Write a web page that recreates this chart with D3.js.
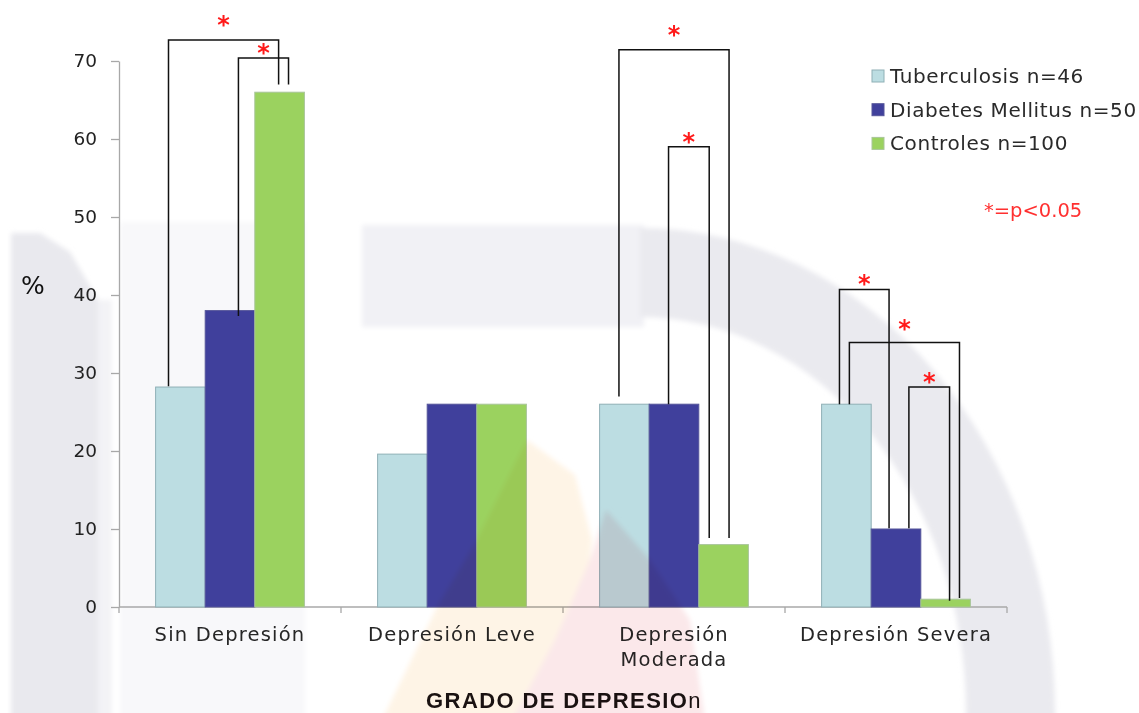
<!DOCTYPE html>
<html>
<head>
<meta charset="utf-8">
<script src="https://cdn.jsdelivr.net/npm/d3@7/dist/d3.min.js"></script>
<style>
  html, body { margin: 0; padding: 0; background: #ffffff; }
  svg { display: block; }
</style>
</head>
<body>
<svg id="chart" width="1139" height="713"></svg>
<script>
// ---- data ----
const categories = ["Sin Depresión", "Depresión Leve", "Depresión Moderada", "Depresión Severa"];
const categoryLines = [["Sin Depresión"], ["Depresión Leve"], ["Depresión", "Moderada"], ["Depresión Severa"]];
const seriesNames = ["Tuberculosis n=46", "Diabetes Mellitus n=50", "Controles n=100"];
const tuberculosis = [28.2, 19.6, 26, 26];
const diabetes = [38, 26, 26, 10];
const controles = [66, 26, 8, 1];
const yTicks = [0, 10, 20, 30, 40, 50, 60, 70];

// significance brackets: category, series at each end, shift of each leg as a share of the bar width,
// value where each leg ends, value of the horizontal bar and of the asterisk
const bracketCat   = [0, 0, 2, 2, 3, 3, 3];
const bracketFrom  = [0, 1, 0, 1, 0, 0, 1];
const bracketTo    = [2, 2, 2, 2, 1, 2, 2];
const fromShift    = [-0.24, 0.17, -0.11, -0.11, -0.14, 0.06, 0.26];
const toShift      = [-0.02, 0.18, 0.11, -0.29, -0.14, 0.28, 0.08];
const fromEnd      = [28.3, 37.3, 27, 26, 26, 26, 10.1];
const toEnd        = [67, 67, 8.85, 8.85, 10.1, 1.15, 0.8];
const bracketLevel = [72.7, 70.4, 71.45, 59, 40.7, 33.9, 28.2];
const starLevel    = [75.3, 71.7, 74, 60.3, 42.1, 36.3, 29.5];

const series = [tuberculosis, diabetes, controles];
const fills   = ["#bcdde2", "#40409c", "#9bd25f"];
const strokes = ["#8fb0b6", "#55559a", "#a9c59a"];

// ---- layout ----
const svg = d3.select("#chart");
const plot = { left: 119, right: 1007, top: 61, bottom: 607 };

const x0 = d3.scaleBand().domain(d3.range(categories.length)).range([plot.left, plot.right]).paddingInner(0).paddingOuter(0);
const x1 = d3.scaleBand().domain(d3.range(series.length)).range([0, x0.bandwidth()]).paddingInner(0).paddingOuter(0.738);
const y  = d3.scaleLinear().domain([0, 70]).range([plot.bottom, plot.top]);

const font = "'DejaVu Sans', Verdana, sans-serif";

const defs = svg.append("defs");
defs.append("filter").attr("id", "soft").attr("x", "-10%").attr("y", "-10%").attr("width", "120%").attr("height", "120%")
  .append("feGaussianBlur").attr("stdDeviation", 2.5);

// ---- faint backdrop print (behind the drawing) ----
const back = svg.append("g").attr("filter", "url(#soft)");
back.append("rect").attr("x", 120).attr("y", 222).attr("width", 185).attr("height", 500).attr("fill", "#f8f8fa");
back.append("path").attr("d", "M11,720V233H40L70,252L98,300V720Z").attr("fill", "#e9e9ee");
back.append("rect").attr("x", 98).attr("y", 300).attr("width", 14).attr("height", 420).attr("fill", "#f3f3f6");
back.append("rect").attr("x", 362).attr("y", 225).attr("width", 282).attr("height", 102).attr("fill", "#f1f1f5");
back.append("path")
  .attr("d", "M640,228A415,485 0 0 1 1055,713V720H966V713A326,396 0 0 0 640,317Z")
  .attr("fill", "#eaeaef");

// ---- y axis ----
const yAxis = svg.append("g")
  .attr("transform", `translate(${plot.left},0)`)
  .call(d3.axisLeft(y).tickValues(yTicks).tickSize(8).tickSizeOuter(0).tickPadding(14));
yAxis.select(".domain").attr("stroke", "#a8a8a8").attr("stroke-width", 1.3);
yAxis.selectAll(".tick line").attr("stroke", "#a8a8a8").attr("stroke-width", 1.3);
yAxis.selectAll(".tick text").attr("font-family", font).attr("font-size", 18.5).attr("fill", "#222");

// ---- x axis ----
const xAxis = svg.append("g").attr("transform", `translate(0,${plot.bottom})`);
xAxis.append("line")
  .attr("x1", plot.left).attr("x2", plot.right)
  .attr("stroke", "#a8a8a8").attr("stroke-width", 1.3);
const boundaries = d3.range(categories.length).map(i => x0(i)).concat([plot.right]);
xAxis.selectAll("line.cat-tick").data(boundaries).join("line")
  .attr("class", "cat-tick")
  .attr("x1", d => d).attr("x2", d => d)
  .attr("y1", 0).attr("y2", 6)
  .attr("stroke", "#a8a8a8").attr("stroke-width", 1.3);

const catLabels = xAxis.selectAll("text.cat").data(categoryLines).join("text")
  .attr("class", "cat")
  .attr("font-family", font).attr("font-size", 19.5).attr("letter-spacing", 1.2).attr("fill", "#262626")
  .attr("text-anchor", "middle")
  .attr("transform", (d, i) => `translate(${x0(i) + x0.bandwidth() / 2},34)`);
catLabels.selectAll("tspan").data(d => d).join("tspan")
  .attr("x", 0).attr("y", (d, i) => i * 25).text(d => d);

// ---- bars ----
const groups = svg.append("g").selectAll("g").data(categories).join("g")
  .attr("transform", (d, i) => `translate(${x0(i)},0)`);
groups.selectAll("rect").data((d, ci) => series.map((s, si) => ({ si, v: s[ci] }))).join("rect")
  .attr("x", d => x1(d.si))
  .attr("width", x1.bandwidth())
  .attr("y", d => y(d.v))
  .attr("height", d => y(0) - y(d.v))
  .attr("fill", d => fills[d.si])
  .attr("stroke", d => strokes[d.si])
  .attr("stroke-width", 1);

// ---- significance brackets ----
const legX = (cat, s, shift) => x0(cat) + x1(s) + x1.bandwidth() * (0.5 + shift);
const bracketData = bracketCat.map((c, i) => ({
  xa: legX(c, bracketFrom[i], fromShift[i]),
  xb: legX(c, bracketTo[i], toShift[i]),
  ya: y(fromEnd[i]), yb: y(toEnd[i]),
  yt: y(bracketLevel[i]), ys: y(starLevel[i])
}));
const br = svg.append("g");
br.selectAll("path").data(bracketData).join("path")
  .attr("d", d => `M${d.xa},${d.ya}V${d.yt}H${d.xb}V${d.yb}`)
  .attr("fill", "none").attr("stroke", "#111").attr("stroke-width", 1.5);
br.selectAll("text").data(bracketData).join("text")
  .attr("x", d => (d.xa + d.xb) / 2)
  .attr("y", d => d.ys + 13.5)
  .attr("text-anchor", "middle")
  .attr("font-family", font).attr("font-size", 24).attr("font-weight", "bold")
  .attr("fill", "#ff1a1a")
  .text("*");

// ---- legend ----
const legend = svg.append("g").attr("transform", "translate(872,70)");
const items = legend.selectAll("g").data(seriesNames).join("g")
  .attr("transform", (d, i) => `translate(0,${i * 33.7})`);
items.append("rect")
  .attr("width", 12).attr("height", 12)
  .attr("fill", (d, i) => fills[i]).attr("stroke", (d, i) => strokes[i]);
items.append("text")
  .attr("x", 18).attr("y", 13)
  .attr("font-family", font).attr("font-size", 20).attr("letter-spacing", 0.6).attr("fill", "#2a2a2a")
  .text(d => d);

svg.append("text")
  .attr("x", 984).attr("y", 217)
  .attr("font-family", font).attr("font-size", 19.5).attr("fill", "#ff3030")
  .text("*=p<0.05");

// ---- axis titles ----
svg.append("text")
  .attr("x", 21).attr("y", 294)
  .attr("font-family", font).attr("font-size", 25).attr("fill", "#111")
  .text("%");

const title = svg.append("text")
  .attr("x", 564).attr("y", 708)
  .attr("text-anchor", "middle")
  .attr("font-family", "'Liberation Sans', Arial, sans-serif")
  .attr("font-size", 22).attr("letter-spacing", 1.4).attr("fill", "#1a1212");
title.append("tspan").attr("font-weight", "bold").text("GRADO DE DEPRESIO");
title.append("tspan").attr("font-weight", "normal").text("n");

// ---- warm tints of the print, multiplied over the bars ----
const wm = svg.append("g").style("mix-blend-mode", "multiply").style("pointer-events", "none")
  .attr("filter", "url(#soft)");
wm.append("path")
  .attr("d", "M527,440L575,475L592,540L585,600L545,720L382,720L437,607L477,540Z")
  .attr("fill", "#fef4e6");
wm.append("path")
  .attr("d", "M606,510L650,560L690,620L705,720L512,720L555,640L590,560Z")
  .attr("fill", "#fbe8ea");
</script>
</body>
</html>
